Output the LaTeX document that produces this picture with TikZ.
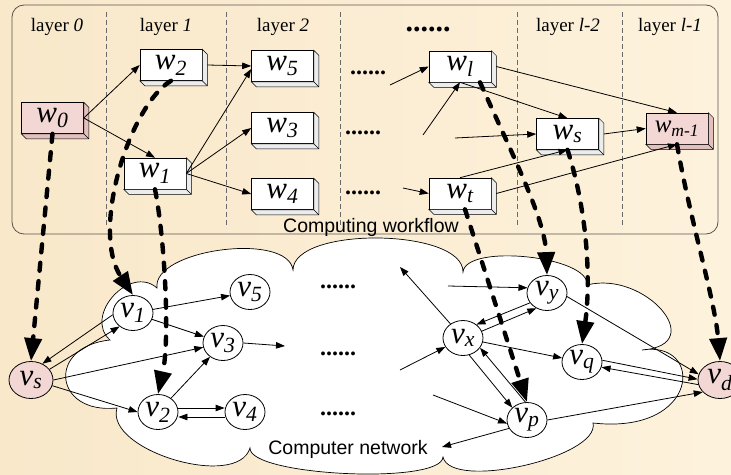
\documentclass[tikz,border=0pt]{standalone}
\usepackage{fontspec}
\setmainfont{Liberation Serif}
\setsansfont{Liberation Sans}
\usetikzlibrary{arrows.meta,shapes.geometric}

\definecolor{bgA}{RGB}{249,232,202}
\definecolor{bgB}{RGB}{253,242,220}
\definecolor{pinkfill}{RGB}{243,215,213}
\definecolor{pinkside}{RGB}{226,192,190}
\definecolor{boxside}{RGB}{236,236,236}
\definecolor{framecol}{RGB}{90,84,76}
\definecolor{sepcol}{RGB}{105,105,105}

% 3D depth of a task box: side and bottom faces
\newcommand\boxdepth[2]{%
  \filldraw[fill=#2, line width=0.5pt]
    (#1.north east) -- ([shift={(5,5)}]#1.north east)
    -- ([shift={(5,5)}]#1.south east) -- ([shift={(5,5)}]#1.south west)
    -- (#1.south west) -- (#1.south east) -- cycle;
  \draw[line width=0.5pt] (#1.south east) -- ([shift={(5,5)}]#1.south east);
}

\begin{document}
\begin{tikzpicture}[x=1pt,y=-1pt,
  task/.style={draw=black, line width=0.6pt, fill=white, minimum width=62pt,
    minimum height=31pt, inner sep=0pt, font=\fontsize{31}{31}\selectfont\itshape},
  hot/.style={fill=pinkfill},
  host/.style={ellipse, draw=black, line width=0.8pt, fill=white, minimum width=40pt,
    minimum height=35pt, inner sep=0pt, font=\fontsize{31}{31}\selectfont\itshape},
  layerlab/.style={anchor=base, font=\fontsize{19}{19}\selectfont},
  dots/.style={anchor=base, font=\fontsize{24}{24}\selectfont\bfseries},
  caption/.style={anchor=base, font=\sffamily\fontsize{19.5}{19.5}\selectfont},
  link/.style={line width=0.8pt, -{Triangle[length=9pt,width=6.5pt]}},
  mapping/.style={line width=4.4pt, line cap=round, dash pattern=on 8pt off 10.5pt,
    -{Triangle[length=23pt,width=17pt]}},
  sep/.style={draw=sepcol, line width=0.6pt, dash pattern=on 5pt off 3pt}
]
\useasboundingbox (0,0) rectangle (731,474);
\shade[left color=bgA, right color=bgB] (0,0) rectangle (731,474);

% workflow frame and layer separators
\draw[framecol, line width=0.8pt, rounded corners=12pt] (12,5) rectangle (718,234);
\foreach \x in {106,226,340,517,622} \draw[sep] (\x,12) -- (\x,228);

\node[layerlab] (l0) at (57,31) {layer \textit{0}};
\node[layerlab] (l1) at (166,31) {layer \textit{1}};
\node[layerlab] (l2) at (283,31) {layer \textit{2}};
\node[anchor=base, font=\fontsize{30}{30}\selectfont\bfseries] (ld) at (428,31) {......};
\node[layerlab] (l3) at (568,31) {layer \textit{l-2}};
\node[layerlab] (l4) at (670,31) {layer \textit{l-1}};

\node[dots] (d1) at (368,74) {......};
\node[dots] (d2) at (363,134) {......};
\node[dots] (d3) at (363,194) {......};
\node[caption] (cw) at (371,232) {Computing workflow};

% computer network cloud
\draw[fill=white, line width=0.7pt] (117,408)
  .. controls (53.4,414.5) and (46.4,346.5) .. (110,340)
  .. controls (83,316) and (130,264) .. (157,288)
  .. controls (151.9,249.3) and (287.9,231.3) .. (293,270)
  .. controls (293.5,226) and (463.5,228) .. (463,272)
  .. controls (466,243.2) and (590,256.2) .. (587,285)
  .. controls (645,270) and (710,345) .. (642,350)
  .. controls (705,340) and (700,435) .. (593,423)
  .. controls (600.7,457.1) and (450.7,491.1) .. (443,457)
  .. controls (441.7,485) and (248.7,476) .. (250,448)
  .. controls (237.3,490.2) and (104.3,450.2) .. (117,408)
  -- cycle;

\node[dots] (n1) at (338,288) {......};
\node[dots] (n2) at (338,355) {......};
\node[dots] (n3) at (338,415) {......};
\node[caption] (cn) at (348,454) {Computer network};

% workflow tasks
\node[task,hot] (w0) at (52.5,118) {w\textsubscript{0}};
\node[task] (w2) at (171,65) {w\textsubscript{2}};
\node[task] (w1) at (155,173.5) {w\textsubscript{1}};
\node[task] (w5) at (282.5,66) {w\textsubscript{5}};
\node[task] (w3) at (282.5,128) {w\textsubscript{3}};
\node[task] (w4) at (282.5,194) {w\textsubscript{4}};
\node[task] (wl) at (460,66.5) {w\textsubscript{l}};
\node[task] (ws) at (567.5,134) {w\textsubscript{s}};
\node[task,hot,font=\fontsize{25}{25}\selectfont\itshape] (wm) at (677,128.5) {w\textsubscript{m-1}};
\node[task] (wt) at (460,193.5) {w\textsubscript{t}};
\boxdepth{w0}{pinkside}
\boxdepth{w2}{boxside}
\boxdepth{w1}{boxside}
\boxdepth{w5}{boxside}
\boxdepth{w3}{boxside}
\boxdepth{w4}{boxside}
\boxdepth{wl}{boxside}
\boxdepth{ws}{boxside}
\boxdepth{wm}{pinkside}
\boxdepth{wt}{boxside}

% loose ends of workflow edges
\coordinate (a1) at (390,85);
\coordinate (a2) at (423,135);
\coordinate (a3) at (455,138);
\coordinate (a4) at (403,188);

% workflow dependencies
\draw[link] (w0.east) -- (w2.west);
\draw[link] (w0.east) -- (w1.north);
\draw[link] ([xshift=5pt]w2.east) -- (w5.west);
\draw[link] (w1.east) -- ([yshift=-3pt]w5.west);
\draw[link] (w1.east) -- (w3.west);
\draw[link] (w1.east) -- (w4.west);
\draw[link] (a1) -- (wl.west);
\draw[link] (a2) -- (wl.south);
\draw[link] (wl.south) -- (ws.north);
\draw[link] (a3) -- (ws.west);
\draw[link] (a4) -- (wt.west);
\draw[link] ([xshift=5pt]wl.east) -- (wm.north);
\draw[link] ([xshift=5pt]ws.east) -- (wm.west);
\draw[link] (wt.north) -- (ws.south);
\draw[link] ([xshift=5pt]wt.east) -- (wm.south);

% network hosts
\node[host] (v1) at (133,313) {v\textsubscript{1}};
\node[host] (v5) at (250,292) {v\textsubscript{5}};
\node[host] (v3) at (223,343) {v\textsubscript{3}};
\node[host] (v2) at (158,412) {v\textsubscript{2}};
\node[host] (v4) at (245,412) {v\textsubscript{4}};
\node[host,hot,minimum width=44pt,minimum height=37pt] (vs) at (31,380) {v\textsubscript{s}};
\node[host] (vy) at (547,293) {v\textsubscript{y}};
\node[host] (vx) at (463,338) {v\textsubscript{x}};
\node[host] (vq) at (582,362) {v\textsubscript{q}};
\node[host] (vp) at (527,420) {v\textsubscript{p}};
\node[host,hot,minimum width=44pt,minimum height=37pt] (vd) at (720,380) {v\textsubscript{d}};

% loose ends of network links
\coordinate (b1) at (285,346);
\coordinate (b2) at (400,370);
\coordinate (b3) at (400,267);
\coordinate (b4) at (448,286);
\coordinate (b5) at (433,395);
\coordinate (b6) at (442,447);

% network links
\draw[link] (v1) -- (v5);
\draw[link] (v1) -- (v3);
\draw[link] (v1.185) -- (vs.55);
\draw[link] (vs.30) -- (v1.225);
\draw[link] (vs.east) -- (v3);
\draw[link] (vs.-15) -- (v2.west);
\draw[link] (v2) -- (v3);
\draw[link] ([yshift=4pt]v2.east) -- ([yshift=4pt]v4.west);
\draw[link] ([yshift=-5pt]v4.west) -- ([yshift=-5pt]v2.east);
\draw[link] (v3.east) -- (b1);
\draw[link] (b2) -- (vx);
\draw[link] (vx) -- (b3);
\draw[link] (b4) -- (vy.165);
\draw[link] (vy.210) -- (vx.45);
\draw[link] (vx.20) -- (vy.235);
\draw[link] (vx) -- (vq);
\draw[link] (vx.290) -- (vp.140);
\draw[link] (vp.95) -- (vx.330);
\draw[link] (b5) -- (vp.190);
\draw[link] (vp.205) -- (b6);
\draw[link] (vy.-10) -- (vd.165);
\draw[link] (vq.5) -- (vd.178);
\draw[link] (vd.192) -- (vq.-15);
\draw[link] (vp.east) -- (vd.215);

% task-to-host mappings
\draw[mapping] (w0.south) -- (vs.north);
\draw[mapping] (w2.south) .. controls (130,105) and (90,230) .. (v1.north);
\draw[mapping] (w1.south) .. controls (165,240) and (170,340) .. (v2.north);
\draw[mapping] ([xshift=20pt]wl.south) .. controls (515,160) and (545,220) .. (vy.north);
\draw[mapping] (ws.south) .. controls (590,220) and (590,290) .. (vq.north);
\draw[mapping] ([xshift=5pt]wt.south) -- (vp.north);
\draw[mapping] (wm.south) .. controls (690,220) and (715,300) .. (vd.north);
\end{tikzpicture}
\end{document}
